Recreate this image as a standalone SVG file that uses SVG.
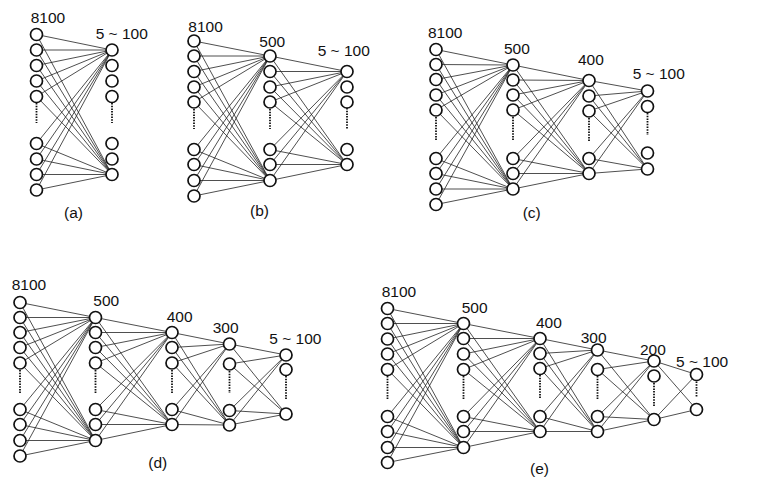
<svg xmlns="http://www.w3.org/2000/svg" width="769" height="487" viewBox="0 0 769 487">
<style>
.e{fill:none;stroke:#222;stroke-width:0.8}
.n circle{fill:#fff;stroke:#111;stroke-width:1.7}
.d{stroke:#111;stroke-width:1.8;stroke-dasharray:1.5 1.2}
text{font-family:"Liberation Sans",Arial,sans-serif;font-size:15.5px;fill:#111}
</style>
<rect width="769" height="487" fill="#fff"/>
<g id="connectors">
<path class="e" d="M36.5 34.5L112 50M36.5 50L112 50M36.5 65.5L112 50M36.5 81L112 50M36.5 96.5L112 50M36.5 143.5L112 50M36.5 159L112 50M36.5 174.5L112 50M36.5 190L112 50M36.5 34.5L112 174.5M36.5 50L112 174.5M36.5 65.5L112 174.5M36.5 81L112 174.5M36.5 96.5L112 174.5M36.5 143.5L112 174.5M36.5 159L112 174.5M36.5 174.5L112 174.5M36.5 190L112 174.5"/>
<path class="e" d="M194 41L270 56M194 56L270 56M194 71.5L270 56M194 87L270 56M194 102L270 56M194 149.5L270 56M194 164.5L270 56M194 180.5L270 56M194 196L270 56M194 41L270 180.5M194 56L270 180.5M194 71.5L270 180.5M194 87L270 180.5M194 102L270 180.5M194 149.5L270 180.5M194 164.5L270 180.5M194 180.5L270 180.5M194 196L270 180.5"/>
<path class="e" d="M270 56L347 71.5M270 71.5L347 71.5M270 87L347 71.5M270 102L347 71.5M270 149.5L347 71.5M270 164.5L347 71.5M270 180.5L347 71.5M270 56L347 164.5M270 71.5L347 164.5M270 87L347 164.5M270 102L347 164.5M270 149.5L347 164.5M270 164.5L347 164.5M270 180.5L347 164.5"/>
<path class="e" d="M436 49.5L513 65M436 64.5L513 65M436 79.5L513 65M436 95L513 65M436 110L513 65M436 158.5L513 65M436 173.5L513 65M436 189L513 65M436 204.5L513 65M436 49.5L513 189M436 64.5L513 189M436 79.5L513 189M436 95L513 189M436 110L513 189M436 158.5L513 189M436 173.5L513 189M436 189L513 189M436 204.5L513 189"/>
<path class="e" d="M513 65L589 80.5M513 80L589 80.5M513 95L589 80.5M513 110L589 80.5M513 158.5L589 80.5M513 173.5L589 80.5M513 189L589 80.5M513 65L589 173.5M513 80L589 173.5M513 95L589 173.5M513 110L589 173.5M513 158.5L589 173.5M513 173.5L589 173.5M513 189L589 173.5"/>
<path class="e" d="M589 80.5L647.5 91M589 96L647.5 91M589 111L647.5 91M589 158.5L647.5 91M589 173.5L647.5 91M589 80.5L647.5 169M589 96L647.5 169M589 111L647.5 169M589 158.5L647.5 169M589 173.5L647.5 169"/>
<path class="e" d="M20 302.5L95.5 317.5M20 317.5L95.5 317.5M20 332.5L95.5 317.5M20 347.5L95.5 317.5M20 363L95.5 317.5M20 409.5L95.5 317.5M20 424.5L95.5 317.5M20 440.5L95.5 317.5M20 456L95.5 317.5M20 302.5L95.5 440.5M20 317.5L95.5 440.5M20 332.5L95.5 440.5M20 347.5L95.5 440.5M20 363L95.5 440.5M20 409.5L95.5 440.5M20 424.5L95.5 440.5M20 440.5L95.5 440.5M20 456L95.5 440.5"/>
<path class="e" d="M95.5 317.5L172 332.5M95.5 332.5L172 332.5M95.5 347.5L172 332.5M95.5 363L172 332.5M95.5 409.5L172 332.5M95.5 424.5L172 332.5M95.5 440.5L172 332.5M95.5 317.5L172 424.5M95.5 332.5L172 424.5M95.5 347.5L172 424.5M95.5 363L172 424.5M95.5 409.5L172 424.5M95.5 424.5L172 424.5M95.5 440.5L172 424.5"/>
<path class="e" d="M172 332.5L229.5 344M172 347.5L229.5 344M172 363L229.5 344M172 409.5L229.5 344M172 424.5L229.5 344M172 332.5L229.5 425M172 347.5L229.5 425M172 363L229.5 425M172 409.5L229.5 425M172 424.5L229.5 425"/>
<path class="e" d="M229.5 344L286 355M229.5 364L286 355M229.5 410.5L286 355M229.5 425L286 355M229.5 344L286 414M229.5 364L286 414M229.5 410.5L286 414M229.5 425L286 414"/>
<path class="e" d="M387.5 308.5L463.5 323.5M387.5 323.5L463.5 323.5M387.5 339L463.5 323.5M387.5 354L463.5 323.5M387.5 369.5L463.5 323.5M387.5 416.5L463.5 323.5M387.5 431.5L463.5 323.5M387.5 447.5L463.5 323.5M387.5 462.5L463.5 323.5M387.5 308.5L463.5 447.5M387.5 323.5L463.5 447.5M387.5 339L463.5 447.5M387.5 354L463.5 447.5M387.5 369.5L463.5 447.5M387.5 416.5L463.5 447.5M387.5 431.5L463.5 447.5M387.5 447.5L463.5 447.5M387.5 462.5L463.5 447.5"/>
<path class="e" d="M463.5 323.5L540 338.5M463.5 338.5L540 338.5M463.5 354L540 338.5M463.5 369.5L540 338.5M463.5 416.5L540 338.5M463.5 431.5L540 338.5M463.5 447.5L540 338.5M463.5 323.5L540 431.5M463.5 338.5L540 431.5M463.5 354L540 431.5M463.5 369.5L540 431.5M463.5 416.5L540 431.5M463.5 431.5L540 431.5M463.5 447.5L540 431.5"/>
<path class="e" d="M540 338.5L597.5 350M540 353.5L597.5 350M540 368.5L597.5 350M540 416.5L597.5 350M540 431.5L597.5 350M540 338.5L597.5 431.5M540 353.5L597.5 431.5M540 368.5L597.5 431.5M540 416.5L597.5 431.5M540 431.5L597.5 431.5"/>
<path class="e" d="M597.5 350L654 361M597.5 369.5L654 361M597.5 416.5L654 361M597.5 431.5L654 361M597.5 350L654 419.5M597.5 369.5L654 419.5M597.5 416.5L654 419.5M597.5 431.5L654 419.5"/>
<path class="e" d="M654 361L696.5 374.5M654 419.5L696.5 374.5M654 361L696.5 409.5M654 419.5L696.5 409.5"/>
</g>
<g id="dots">
<line class="d" x1="36.5" y1="103" x2="36.5" y2="123"/>
<line class="d" x1="112" y1="103" x2="112" y2="123"/>
<line class="d" x1="194" y1="109" x2="194" y2="129"/>
<line class="d" x1="270" y1="109" x2="270" y2="129"/>
<line class="d" x1="347" y1="108" x2="347" y2="129"/>
<line class="d" x1="436" y1="117" x2="436" y2="141"/>
<line class="d" x1="513" y1="117" x2="513" y2="141"/>
<line class="d" x1="589" y1="118" x2="589" y2="141"/>
<line class="d" x1="647.5" y1="113" x2="647.5" y2="135"/>
<line class="d" x1="20" y1="370" x2="20" y2="393"/>
<line class="d" x1="95.5" y1="370" x2="95.5" y2="393"/>
<line class="d" x1="172" y1="370" x2="172" y2="393"/>
<line class="d" x1="229.5" y1="371" x2="229.5" y2="393"/>
<line class="d" x1="286" y1="376" x2="286" y2="400"/>
<line class="d" x1="387.5" y1="376" x2="387.5" y2="400"/>
<line class="d" x1="463.5" y1="376" x2="463.5" y2="400"/>
<line class="d" x1="540" y1="375" x2="540" y2="399"/>
<line class="d" x1="597.5" y1="376" x2="597.5" y2="400"/>
<line class="d" x1="654" y1="383" x2="654" y2="406"/>
<line class="d" x1="696.5" y1="381.5" x2="696.5" y2="397"/>
</g>
<g id="nodes-a" class="n">
<g id="a1-1"><circle cx="36.5" cy="34.5" r="6"/></g>
<g id="a1-2"><circle cx="36.5" cy="50" r="6"/></g>
<g id="a1-3"><circle cx="36.5" cy="65.5" r="6"/></g>
<g id="a1-4"><circle cx="36.5" cy="81" r="6"/></g>
<g id="a1-5"><circle cx="36.5" cy="96.5" r="6"/></g>
<g id="a1-6"><circle cx="36.5" cy="143.5" r="6"/></g>
<g id="a1-7"><circle cx="36.5" cy="159" r="6"/></g>
<g id="a1-8"><circle cx="36.5" cy="174.5" r="6"/></g>
<g id="a1-9"><circle cx="36.5" cy="190" r="6"/></g>
<g id="a2-1"><circle cx="112" cy="50" r="6"/></g>
<g id="a2-2"><circle cx="112" cy="65.5" r="6"/></g>
<g id="a2-3"><circle cx="112" cy="81" r="6"/></g>
<g id="a2-4"><circle cx="112" cy="96.5" r="6"/></g>
<g id="a2-5"><circle cx="112" cy="143.5" r="6"/></g>
<g id="a2-6"><circle cx="112" cy="159" r="6"/></g>
<g id="a2-7"><circle cx="112" cy="174.5" r="6"/></g>
</g>
<g id="nodes-b" class="n">
<g id="b1-1"><circle cx="194" cy="41" r="6"/></g>
<g id="b1-2"><circle cx="194" cy="56" r="6"/></g>
<g id="b1-3"><circle cx="194" cy="71.5" r="6"/></g>
<g id="b1-4"><circle cx="194" cy="87" r="6"/></g>
<g id="b1-5"><circle cx="194" cy="102" r="6"/></g>
<g id="b1-6"><circle cx="194" cy="149.5" r="6"/></g>
<g id="b1-7"><circle cx="194" cy="164.5" r="6"/></g>
<g id="b1-8"><circle cx="194" cy="180.5" r="6"/></g>
<g id="b1-9"><circle cx="194" cy="196" r="6"/></g>
<g id="b2-1"><circle cx="270" cy="56" r="6"/></g>
<g id="b2-2"><circle cx="270" cy="71.5" r="6"/></g>
<g id="b2-3"><circle cx="270" cy="87" r="6"/></g>
<g id="b2-4"><circle cx="270" cy="102" r="6"/></g>
<g id="b2-5"><circle cx="270" cy="149.5" r="6"/></g>
<g id="b2-6"><circle cx="270" cy="164.5" r="6"/></g>
<g id="b2-7"><circle cx="270" cy="180.5" r="6"/></g>
<g id="b3-1"><circle cx="347" cy="71.5" r="6"/></g>
<g id="b3-2"><circle cx="347" cy="87" r="6"/></g>
<g id="b3-3"><circle cx="347" cy="102" r="6"/></g>
<g id="b3-4"><circle cx="347" cy="149.5" r="6"/></g>
<g id="b3-5"><circle cx="347" cy="164.5" r="6"/></g>
</g>
<g id="nodes-c" class="n">
<g id="c1-1"><circle cx="436" cy="49.5" r="6"/></g>
<g id="c1-2"><circle cx="436" cy="64.5" r="6"/></g>
<g id="c1-3"><circle cx="436" cy="79.5" r="6"/></g>
<g id="c1-4"><circle cx="436" cy="95" r="6"/></g>
<g id="c1-5"><circle cx="436" cy="110" r="6"/></g>
<g id="c1-6"><circle cx="436" cy="158.5" r="6"/></g>
<g id="c1-7"><circle cx="436" cy="173.5" r="6"/></g>
<g id="c1-8"><circle cx="436" cy="189" r="6"/></g>
<g id="c1-9"><circle cx="436" cy="204.5" r="6"/></g>
<g id="c2-1"><circle cx="513" cy="65" r="6"/></g>
<g id="c2-2"><circle cx="513" cy="80" r="6"/></g>
<g id="c2-3"><circle cx="513" cy="95" r="6"/></g>
<g id="c2-4"><circle cx="513" cy="110" r="6"/></g>
<g id="c2-5"><circle cx="513" cy="158.5" r="6"/></g>
<g id="c2-6"><circle cx="513" cy="173.5" r="6"/></g>
<g id="c2-7"><circle cx="513" cy="189" r="6"/></g>
<g id="c3-1"><circle cx="589" cy="80.5" r="6"/></g>
<g id="c3-2"><circle cx="589" cy="96" r="6"/></g>
<g id="c3-3"><circle cx="589" cy="111" r="6"/></g>
<g id="c3-4"><circle cx="589" cy="158.5" r="6"/></g>
<g id="c3-5"><circle cx="589" cy="173.5" r="6"/></g>
<g id="c4-1"><circle cx="647.5" cy="91" r="6"/></g>
<g id="c4-2"><circle cx="647.5" cy="106.5" r="6"/></g>
<g id="c4-3"><circle cx="647.5" cy="153" r="6"/></g>
<g id="c4-4"><circle cx="647.5" cy="169" r="6"/></g>
</g>
<g id="nodes-d" class="n">
<g id="d1-1"><circle cx="20" cy="302.5" r="6"/></g>
<g id="d1-2"><circle cx="20" cy="317.5" r="6"/></g>
<g id="d1-3"><circle cx="20" cy="332.5" r="6"/></g>
<g id="d1-4"><circle cx="20" cy="347.5" r="6"/></g>
<g id="d1-5"><circle cx="20" cy="363" r="6"/></g>
<g id="d1-6"><circle cx="20" cy="409.5" r="6"/></g>
<g id="d1-7"><circle cx="20" cy="424.5" r="6"/></g>
<g id="d1-8"><circle cx="20" cy="440.5" r="6"/></g>
<g id="d1-9"><circle cx="20" cy="456" r="6"/></g>
<g id="d2-1"><circle cx="95.5" cy="317.5" r="6"/></g>
<g id="d2-2"><circle cx="95.5" cy="332.5" r="6"/></g>
<g id="d2-3"><circle cx="95.5" cy="347.5" r="6"/></g>
<g id="d2-4"><circle cx="95.5" cy="363" r="6"/></g>
<g id="d2-5"><circle cx="95.5" cy="409.5" r="6"/></g>
<g id="d2-6"><circle cx="95.5" cy="424.5" r="6"/></g>
<g id="d2-7"><circle cx="95.5" cy="440.5" r="6"/></g>
<g id="d3-1"><circle cx="172" cy="332.5" r="6"/></g>
<g id="d3-2"><circle cx="172" cy="347.5" r="6"/></g>
<g id="d3-3"><circle cx="172" cy="363" r="6"/></g>
<g id="d3-4"><circle cx="172" cy="409.5" r="6"/></g>
<g id="d3-5"><circle cx="172" cy="424.5" r="6"/></g>
<g id="d4-1"><circle cx="229.5" cy="344" r="6"/></g>
<g id="d4-2"><circle cx="229.5" cy="364" r="6"/></g>
<g id="d4-3"><circle cx="229.5" cy="410.5" r="6"/></g>
<g id="d4-4"><circle cx="229.5" cy="425" r="6"/></g>
<g id="d5-1"><circle cx="286" cy="355" r="6"/></g>
<g id="d5-2"><circle cx="286" cy="369.5" r="6"/></g>
<g id="d5-3"><circle cx="286" cy="414" r="6"/></g>
</g>
<g id="nodes-e" class="n">
<g id="e1-1"><circle cx="387.5" cy="308.5" r="6"/></g>
<g id="e1-2"><circle cx="387.5" cy="323.5" r="6"/></g>
<g id="e1-3"><circle cx="387.5" cy="339" r="6"/></g>
<g id="e1-4"><circle cx="387.5" cy="354" r="6"/></g>
<g id="e1-5"><circle cx="387.5" cy="369.5" r="6"/></g>
<g id="e1-6"><circle cx="387.5" cy="416.5" r="6"/></g>
<g id="e1-7"><circle cx="387.5" cy="431.5" r="6"/></g>
<g id="e1-8"><circle cx="387.5" cy="447.5" r="6"/></g>
<g id="e1-9"><circle cx="387.5" cy="462.5" r="6"/></g>
<g id="e2-1"><circle cx="463.5" cy="323.5" r="6"/></g>
<g id="e2-2"><circle cx="463.5" cy="338.5" r="6"/></g>
<g id="e2-3"><circle cx="463.5" cy="354" r="6"/></g>
<g id="e2-4"><circle cx="463.5" cy="369.5" r="6"/></g>
<g id="e2-5"><circle cx="463.5" cy="416.5" r="6"/></g>
<g id="e2-6"><circle cx="463.5" cy="431.5" r="6"/></g>
<g id="e2-7"><circle cx="463.5" cy="447.5" r="6"/></g>
<g id="e3-1"><circle cx="540" cy="338.5" r="6"/></g>
<g id="e3-2"><circle cx="540" cy="353.5" r="6"/></g>
<g id="e3-3"><circle cx="540" cy="368.5" r="6"/></g>
<g id="e3-4"><circle cx="540" cy="416.5" r="6"/></g>
<g id="e3-5"><circle cx="540" cy="431.5" r="6"/></g>
<g id="e4-1"><circle cx="597.5" cy="350" r="6"/></g>
<g id="e4-2"><circle cx="597.5" cy="369.5" r="6"/></g>
<g id="e4-3"><circle cx="597.5" cy="416.5" r="6"/></g>
<g id="e4-4"><circle cx="597.5" cy="431.5" r="6"/></g>
<g id="e5-1"><circle cx="654" cy="361" r="6"/></g>
<g id="e5-2"><circle cx="654" cy="376" r="6"/></g>
<g id="e5-3"><circle cx="654" cy="419.5" r="6"/></g>
<g id="e6-1"><circle cx="696.5" cy="374.5" r="6"/></g>
<g id="e6-2"><circle cx="696.5" cy="409.5" r="6"/></g>
</g>
<g id="labels">
<text x="30.7" y="23">8100</text>
<text x="95.7" y="38.5">5 ~ 100</text>
<text x="64" y="218">(a)</text>
<text x="188.3" y="32">8100</text>
<text x="259.3" y="47">500</text>
<text x="317.7" y="55.5">5 ~ 100</text>
<text x="250" y="216">(b)</text>
<text x="428" y="38">8100</text>
<text x="504" y="53.5">500</text>
<text x="578" y="64.5">400</text>
<text x="632.7" y="78.5">5 ~ 100</text>
<text x="522.7" y="218">(c)</text>
<text x="11.7" y="290">8100</text>
<text x="93.3" y="306">500</text>
<text x="166.7" y="321.7">400</text>
<text x="212.7" y="333.3">300</text>
<text x="269.3" y="344">5 ~ 100</text>
<text x="148.3" y="468">(d)</text>
<text x="381.7" y="297.3">8100</text>
<text x="461.7" y="313.3">500</text>
<text x="536" y="328.3">400</text>
<text x="580.7" y="343.3">300</text>
<text x="640" y="355">200</text>
<text x="676" y="367.3">5 ~ 100</text>
<text x="530" y="474">(e)</text>
</g>
</svg>
